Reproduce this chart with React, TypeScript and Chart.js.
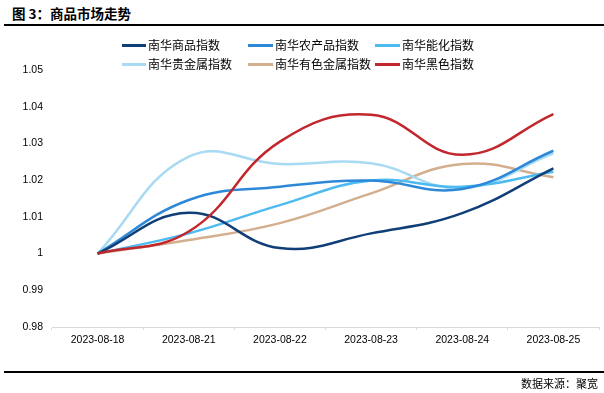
import React, { useEffect, useRef } from 'react';
import { Chart, registerables } from 'chart.js';

Chart.register(...registerables);

const categories = ['2023-08-18', '2023-08-21', '2023-08-22', '2023-08-23', '2023-08-24', '2023-08-25'];
const seriesNames = ['南华商品指数', '南华农产品指数', '南华能化指数', '南华贵金属指数', '南华有色金属指数', '南华黑色指数'];
const commodity = [1, 1.0111, 1.0015, 1.0055, 1.011, 1.0232];
const agri = [1, 1.0146, 1.0182, 1.0199, 1.0176, 1.028];
const energyChem = [1, 1.0055, 1.0132, 1.0199, 1.0182, 1.0223];
const precious = [1, 1.0264, 1.0244, 1.0246, 1.0178, 1.0273];
const nonferrous = [1, 1.0037, 1.0083, 1.0164, 1.0244, 1.0208];
const ferrous = [1, 1.006, 1.0305, 1.0378, 1.0269, 1.038];
const yMin = 0.98;
const yMax = 1.05;
const yStep = 0.01;

const colors = ['#103f77', '#2d89d8', '#4dbbf0', '#a8daf4', '#d4af8e', '#c1272d'];
const seriesData = [commodity, agri, energyChem, precious, nonferrous, ferrous];

const W = 604;
const H = 393;

export default function App() {
  const ref = useRef<HTMLCanvasElement | null>(null);

  useEffect(() => {
    const canvas = ref.current;
    if (!canvas) return;
    const chart = new Chart(canvas, {
      type: 'line',
      data: {
        labels: categories,
        datasets: seriesNames.map((name, i) => ({
          label: name,
          data: seriesData[i],
          borderColor: colors[i],
          backgroundColor: colors[i],
          borderWidth: 2.5,
          pointRadius: 0,
          pointHoverRadius: 0,
          tension: 0.42,
          fill: false,
          order: i === 5 ? -1 : i,
        })),
      },
      options: {
        responsive: false,
        animation: false,
        devicePixelRatio: 1,
        layout: { padding: { left: 0, right: 5, top: 70, bottom: 0 } },
        plugins: {
          legend: { display: false },
          title: { display: false },
          tooltip: { enabled: false },
        },
        scales: {
          x: {
            type: 'category',
            offset: true,
            afterFit: (s: any) => { s.height = H - 327; },
            grid: {
              display: true,
              drawOnChartArea: false,
              drawTicks: true,
              tickLength: 3,
              offset: true,
              color: '#d9d9d9',
            },
            border: { display: true, color: '#d9d9d9', width: 1 },
            ticks: {
              color: '#000',
              font: { family: '"Liberation Sans", Arial, sans-serif', size: 10.5 },
              padding: 4,
              maxRotation: 0,
              autoSkip: false,
            },
          },
          y: {
            min: yMin,
            max: yMax,
            afterFit: (s: any) => { s.width = 52; },
            grid: { display: false, drawTicks: false },
            border: { display: false },
            ticks: {
              stepSize: yStep,
              color: '#000',
              padding: 9,
              font: { family: '"Liberation Sans", Arial, sans-serif', size: 10.5 },
              callback: (v: any) => String(Number(Number(v).toFixed(2))),
            },
          },
        },
      },
    });
    return () => chart.destroy();
  }, []);

  const legendCols = [122, 248, 375];
  const legendRows = [45, 64];

  return (
    <div style={{ position: 'absolute', left: 0, top: 0, width: W, height: H, background: '#fff', overflow: 'hidden', fontFamily: '"Noto Sans CJK SC", sans-serif' }}>
      <div style={{ position: 'absolute', left: 12, top: 4, fontSize: 13.5, fontWeight: 700, lineHeight: '18px', color: '#000' }}>
        图 3：商品市场走势
      </div>
      <div style={{ position: 'absolute', left: 4, right: 0, top: 24, height: 2, background: '#000' }} />
      <canvas ref={ref} width={W} height={H} style={{ position: 'absolute', left: 0, top: 0, width: W, height: H }} />
      {seriesNames.map((name, i) => {
        const col = i % 3;
        const row = Math.floor(i / 3);
        const x = legendCols[col];
        const y = legendRows[row];
        const lineW = col === 0 ? 24 : 25;
        return (
          <React.Fragment key={name}>
            <div style={{ position: 'absolute', left: x, top: y - 1.5, width: lineW, height: 3, background: colors[i] }} />
            <div style={{ position: 'absolute', left: x + lineW + 2, top: y - 9, fontSize: 12, lineHeight: '18px', color: '#000', whiteSpace: 'nowrap' }}>
              {name}
            </div>
          </React.Fragment>
        );
      })}
      <div style={{ position: 'absolute', left: 4, right: 0, top: 371, height: 2, background: '#000' }} />
      <div style={{ position: 'absolute', right: 6, top: 375, fontSize: 11, lineHeight: '16px', color: '#000', whiteSpace: 'nowrap' }}>
        数据来源：聚宽
      </div>
    </div>
  );
}
